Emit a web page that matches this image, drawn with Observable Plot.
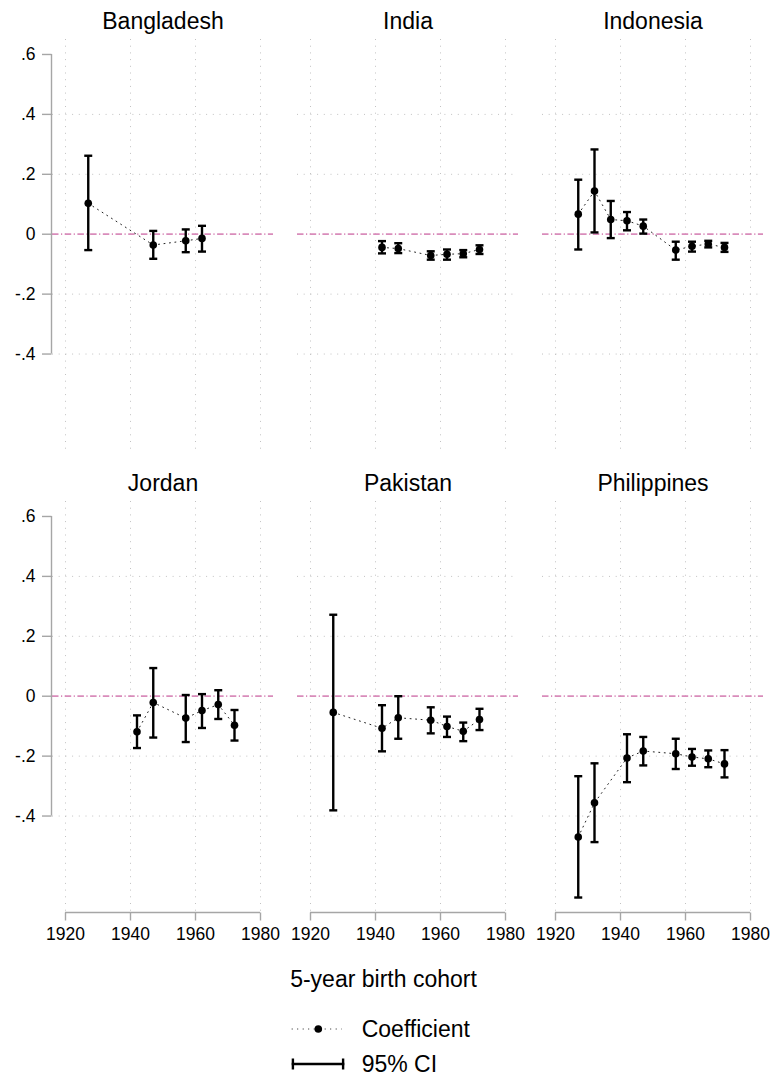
<!DOCTYPE html>
<html>
<head>
<meta charset="utf-8">
<script src="https://cdn.jsdelivr.net/npm/d3@7"></script>
<script src="https://cdn.jsdelivr.net/npm/@observablehq/plot@0.6"></script>
<style>
  html, body { margin: 0; padding: 0; background: #fff; }
  #chart svg { display: block; }
  #chart { width: 775px; font-family: "Liberation Sans", Arial, Helvetica, sans-serif; }
</style>
</head>
<body>
<div id="chart"></div>
<script>
// Countries, in panel order (three per row)
const countries = ["Bangladesh", "India", "Indonesia", "Jordan", "Pakistan", "Philippines"];

// Mid-points of the 5-year birth cohorts
const cohorts = [1927, 1932, 1937, 1942, 1947, 1952, 1957, 1962, 1967, 1972];

// Coefficients and 95% confidence bounds per cohort (null = cohort not estimated)
const bangladeshCoef = [0.103, null, null, null, -0.036, null, -0.022, -0.014, null, null];
const bangladeshLo   = [-0.053, null, null, null, -0.082, null, -0.060, -0.058, null, null];
const bangladeshHi   = [0.262, null, null, null, 0.011, null, 0.016, 0.028, null, null];

const indiaCoef = [null, null, null, -0.044, -0.048, null, -0.071, -0.067, -0.065, -0.051];
const indiaLo   = [null, null, null, -0.064, -0.063, null, -0.085, -0.085, -0.077, -0.066];
const indiaHi   = [null, null, null, -0.023, -0.030, null, -0.057, -0.051, -0.053, -0.037];

const indonesiaCoef = [0.067, 0.144, 0.049, 0.045, 0.027, null, -0.053, -0.040, -0.033, -0.044];
const indonesiaLo   = [-0.051, 0.006, -0.013, 0.013, 0.002, null, -0.085, -0.058, -0.044, -0.059];
const indonesiaHi   = [0.182, 0.283, 0.111, 0.074, 0.049, null, -0.025, -0.025, -0.022, -0.029];

const jordanCoef = [null, null, null, -0.119, -0.021, null, -0.073, -0.048, -0.028, -0.097];
const jordanLo   = [null, null, null, -0.173, -0.138, null, -0.153, -0.106, -0.076, -0.148];
const jordanHi   = [null, null, null, -0.064, 0.094, null, 0.004, 0.007, 0.020, -0.046];

const pakistanCoef = [-0.054, null, null, -0.107, -0.072, null, -0.080, -0.101, -0.117, -0.078];
const pakistanLo   = [-0.381, null, null, -0.184, -0.142, null, -0.124, -0.136, -0.150, -0.113];
const pakistanHi   = [0.272, null, null, -0.030, 0.000, null, -0.037, -0.068, -0.088, -0.042];

const philippinesCoef = [-0.470, -0.356, null, -0.206, -0.183, null, -0.192, -0.203, -0.209, -0.226];
const philippinesLo   = [-0.672, -0.487, null, -0.287, -0.231, null, -0.243, -0.232, -0.237, -0.271];
const philippinesHi   = [-0.267, -0.224, null, -0.127, -0.136, null, -0.142, -0.176, -0.181, -0.180];

// Axis ticks and labels
const xTicks = [1920, 1940, 1960, 1980];
const yTicks = [0.6, 0.4, 0.2, 0, -0.2, -0.4];
const yTickLabels = [".6", ".4", ".2", "0", "-.2", "-.4"];
const yGrid = [0.4, 0.2, -0.2, -0.4];

// Scale domains
const xDomain = [1916, 1984];
const yDomain = [-0.722, 0.65];

const series = [
  {coef: bangladeshCoef, lo: bangladeshLo, hi: bangladeshHi},
  {coef: indiaCoef, lo: indiaLo, hi: indiaHi},
  {coef: indonesiaCoef, lo: indonesiaLo, hi: indonesiaHi},
  {coef: jordanCoef, lo: jordanLo, hi: jordanHi},
  {coef: pakistanCoef, lo: pakistanLo, hi: pakistanHi},
  {coef: philippinesCoef, lo: philippinesLo, hi: philippinesHi}
];

const panels = countries.map((country, i) => ({country, col: i % 3, row: Math.floor(i / 3)}));

const rows = panels.flatMap((p, i) =>
  cohorts
    .map((cohort, j) => ({...p, cohort, coef: series[i].coef[j], lo: series[i].lo[j], hi: series[i].hi[j]}))
    .filter(d => d.coef != null)
);

// Short line symbols used for error-bar caps and axis ticks
const hline = {draw(context, size) { const r = Math.sqrt(size / Math.PI); context.moveTo(-r, 0); context.lineTo(r, 0); }};
const vline = {draw(context, size) { const r = Math.sqrt(size / Math.PI); context.moveTo(0, -r); context.lineTo(0, r); }};

const axisGray = "#a6a6a6";
const gridGray = "#c2c2c2";
const zeroPink = "#d98cbb";
const ink = "#000";

const chart = Plot.plot({
  width: 775,
  height: 950,
  marginTop: 38,
  marginBottom: 37.3,
  marginLeft: 51,
  marginRight: 11.3,
  x: {domain: xDomain, axis: null},
  y: {domain: yDomain, axis: null},
  fx: {axis: null, paddingInner: 0.097, paddingOuter: 0},
  fy: {axis: null, paddingInner: 0.1096, paddingOuter: 0},
  style: {fontFamily: "'Liberation Sans', Arial, Helvetica, sans-serif", background: "#fff", color: "#000"},
  marks: [
    // dotted grid
    Plot.ruleX(xTicks, {x: d => d, stroke: gridGray, strokeWidth: 1, strokeDasharray: "1,5.7"}),
    Plot.ruleY(yGrid, {y: d => d, stroke: gridGray, strokeWidth: 1, strokeDasharray: "1,5.7"}),
    // reference line at zero
    Plot.ruleY([0], {y: d => d, stroke: zeroPink, strokeWidth: 1.7, strokeDasharray: "6.5,2.5,1.2,2.5"}),

    // y axis on the left column
    Plot.ruleX([xDomain[0]], {x: d => d, y1: yTicks[yTicks.length - 1], y2: yTicks[0], fx: () => 0, dx: -1, stroke: axisGray, strokeWidth: 1.4}),
    Plot.dot(yTicks, {y: d => d, fx: () => 0, frameAnchor: "left", symbol: hline, r: 4.75, dx: -5.75, fill: "none", stroke: axisGray, strokeWidth: 1.4}),
    Plot.text(yTicks, {y: d => d, fx: () => 0, frameAnchor: "left", textAnchor: "end", dx: -17, text: (d, i) => yTickLabels[i], fontSize: 17.5}),

    // x axis on the bottom row
    Plot.ruleY([yDomain[0]], {y: d => d, x1: xTicks[0], x2: xTicks[xTicks.length - 1], fy: () => 1, stroke: axisGray, strokeWidth: 1.4}),
    Plot.dot(xTicks, {x: d => d, fy: () => 1, frameAnchor: "bottom", symbol: vline, r: 4, dy: 4, fill: "none", stroke: axisGray, strokeWidth: 1.4}),
    Plot.text(xTicks, {x: d => d, fy: () => 1, frameAnchor: "bottom", lineAnchor: "top", dy: 14.6, text: d => String(d), fontSize: 17.5}),

    // panel titles
    Plot.text(panels, {fx: "col", fy: "row", text: "country", frameAnchor: "top", lineAnchor: "bottom", dy: -10.7, fontSize: 23}),

    // coefficients joined by a dotted line
    Plot.line(rows, {x: "cohort", y: "coef", z: "country", fx: "col", fy: "row", stroke: "#222", strokeWidth: 1, strokeDasharray: "1,4.5"}),
    // 95% confidence intervals
    Plot.ruleX(rows, {x: "cohort", y1: "lo", y2: "hi", fx: "col", fy: "row", stroke: ink, strokeWidth: 2.4}),
    Plot.dot(rows, {x: "cohort", y: "lo", fx: "col", fy: "row", symbol: hline, r: 4, fill: "none", stroke: ink, strokeWidth: 2.4}),
    Plot.dot(rows, {x: "cohort", y: "hi", fx: "col", fy: "row", symbol: hline, r: 4, fill: "none", stroke: ink, strokeWidth: 2.4}),
    Plot.dot(rows, {x: "cohort", y: "coef", fx: "col", fy: "row", r: 3.8, fill: ink, stroke: "none"})
  ]
});

const root = document.getElementById("chart");
root.appendChild(chart);

// x-axis title and legend below the panels
const font = "'Liberation Sans', Arial, Helvetica, sans-serif";
const legend = d3.create("svg").attr("width", 775).attr("height", 126).style("font-family", font);
legend.append("text").attr("x", 383.5).attr("y", 36.7).attr("text-anchor", "middle")
  .attr("font-size", 23).text("5-year birth cohort");

legend.append("line").attr("x1", 291.7).attr("x2", 341.7).attr("y1", 79).attr("y2", 79)
  .attr("stroke", "#222").attr("stroke-width", 1).attr("stroke-dasharray", "1,4.5");
legend.append("circle").attr("cx", 318.3).attr("cy", 79).attr("r", 3.8).attr("fill", ink);
legend.append("text").attr("x", 361.7).attr("y", 87.3).attr("font-size", 23).text("Coefficient");

legend.append("line").attr("x1", 291.7).attr("x2", 344.3).attr("y1", 114).attr("y2", 114)
  .attr("stroke", ink).attr("stroke-width", 2.4);
legend.append("line").attr("x1", 292.9).attr("x2", 292.9).attr("y1", 108.5).attr("y2", 119.5)
  .attr("stroke", ink).attr("stroke-width", 2.4);
legend.append("line").attr("x1", 343.1).attr("x2", 343.1).attr("y1", 108.5).attr("y2", 119.5)
  .attr("stroke", ink).attr("stroke-width", 2.4);
legend.append("text").attr("x", 361.7).attr("y", 122.3).attr("font-size", 23).text("95% CI");

root.appendChild(legend.node());
</script>
</body>
</html>
